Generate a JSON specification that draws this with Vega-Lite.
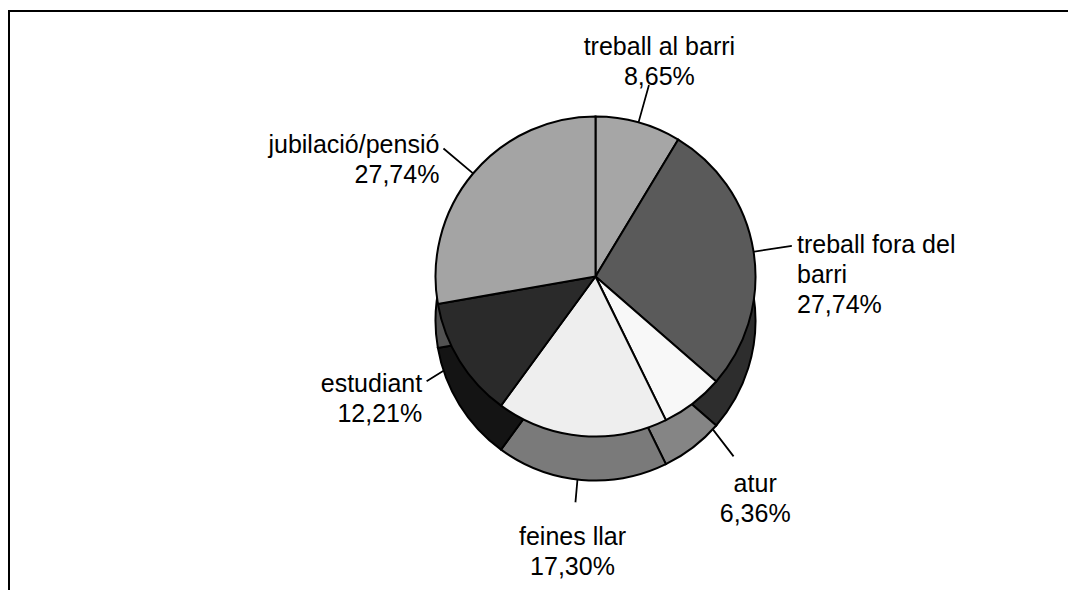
{
  "$schema": "https://vega.github.io/schema/vega-lite/v6.json",
  "width": 1059,
  "height": 579,
  "autosize": "none",
  "padding": {"left": 9, "top": 11, "right": 0, "bottom": 0},
  "background": "white",
  "config": {
    "view": {"stroke": null},
    "text": {"font": "Liberation Sans", "fontSize": 25, "lineHeight": 30, "color": "black"}
  },
  "data": {
    "values": [
      {"cat": "treball al barri", "value": 8.65, "label": "treball al barri\n8,65%"},
      {"cat": "treball fora del barri", "value": 27.74, "label": "treball fora del\nbarri\n27,74%"},
      {"cat": "atur", "value": 6.36, "label": "atur\n6,36%"},
      {"cat": "feines llar", "value": 17.30, "label": "feines llar\n17,30%"},
      {"cat": "estudiant", "value": 12.21, "label": "estudiant\n12,21%"},
      {"cat": "jubilació/pensió", "value": 27.74, "label": "jubilació/pensió\n27,74%"}
    ]
  },
  "transform": [
    {"window": [{"op": "row_number", "as": "ord"}]},
    {"stack": "value", "groupby": [], "sort": [{"field": "ord", "order": "ascending"}], "as": ["v0", "v1"]},
    {"calculate": "(datum.v0 + datum.v1) / 2", "as": "mid"},
    {"calculate": "datum.mid + 0.02", "as": "mid2"}
  ],
  "layer": [
    {
      "transform": [{"filter": "datum.ord == 1"}],
      "mark": {"type": "rect", "filled": false, "stroke": "black", "strokeWidth": 2},
      "encoding": {
        "x": {"value": 0},
        "x2": {"value": {"expr": "width + 40"}},
        "y": {"value": 0},
        "y2": {"value": {"expr": "height + 40"}}
      }
    },
    {
      "transform": [{"filter": "datum.cat != 'atur' && datum.cat != 'feines llar'"}],
      "mark": {"type": "arc", "radius": 198, "fill": "black", "stroke": "black", "strokeWidth": 1.5, "xOffset": 57, "yOffset": -24},
      "encoding": {
        "theta": {"field": "mid", "type": "quantitative", "scale": {"domain": [0, 100]}},
        "theta2": {"field": "mid2"}
      }
    },
    {
      "transform": [{"filter": "datum.cat == 'atur' || datum.cat == 'feines llar'"}],
      "mark": {"type": "arc", "radius": 226, "fill": "black", "stroke": "black", "strokeWidth": 1.5, "xOffset": 57, "yOffset": -24},
      "encoding": {
        "theta": {"field": "mid", "type": "quantitative", "scale": {"domain": [0, 100]}},
        "theta2": {"field": "mid2"}
      }
    },
    {
      "mark": {"type": "arc", "radius": 160, "stroke": "black", "strokeWidth": 2, "xOffset": 57, "yOffset": 20},
      "encoding": {
        "theta": {"field": "v0", "type": "quantitative", "scale": {"domain": [0, 100]}},
        "theta2": {"field": "v1"},
        "color": {
          "field": "cat", "type": "nominal", "legend": null,
          "scale": {
            "domain": ["treball al barri", "treball fora del barri", "atur", "feines llar", "estudiant", "jubilació/pensió"],
            "range": ["#555555", "#2d2d2d", "#858585", "#7a7a7a", "#141414", "#525252"]
          }
        }
      }
    },
    {
      "mark": {"type": "arc", "radius": 160, "stroke": "black", "strokeWidth": 2, "xOffset": 57, "yOffset": -24},
      "encoding": {
        "theta": {"field": "v0", "type": "quantitative", "scale": {"domain": [0, 100]}},
        "theta2": {"field": "v1"},
        "fill": {
          "field": "cat", "type": "nominal", "legend": null,
          "scale": {
            "domain": ["treball al barri", "treball fora del barri", "atur", "feines llar", "estudiant", "jubilació/pensió"],
            "range": ["#a6a6a6", "#5a5a5a", "#f8f8f8", "#eeeeee", "#2a2a2a", "#a4a4a4"]
          }
        }
      }
    },
    {
      "transform": [{"filter": "datum.cat == 'treball al barri'"}],
      "mark": {"type": "text", "radius": 238, "align": "center", "baseline": "middle", "lineBreak": "\n", "xOffset": 57, "yOffset": -24},
      "encoding": {
        "theta": {"field": "mid", "type": "quantitative", "scale": {"domain": [0, 100]}},
        "text": {"field": "label"}
      }
    },
    {
      "transform": [{"filter": "datum.cat == 'atur' || datum.cat == 'feines llar'"}],
      "mark": {"type": "text", "radius": 262, "align": "center", "baseline": "middle", "lineBreak": "\n", "xOffset": 57, "yOffset": -24},
      "encoding": {
        "theta": {"field": "mid", "type": "quantitative", "scale": {"domain": [0, 100]}},
        "text": {"field": "label"}
      }
    },
    {
      "transform": [{"filter": "datum.cat == 'treball fora del barri'"}],
      "mark": {"type": "text", "radius": 204, "align": "left", "baseline": "middle", "lineBreak": "\n", "xOffset": 57, "yOffset": -24},
      "encoding": {
        "theta": {"field": "mid", "type": "quantitative", "scale": {"domain": [0, 100]}},
        "text": {"field": "label"}
      }
    },
    {
      "transform": [{"filter": "datum.cat == 'estudiant' || datum.cat == 'jubilació/pensió'"}],
      "mark": {"type": "text", "radius": 204, "align": "right", "baseline": "middle", "lineBreak": "\n", "xOffset": 57, "yOffset": -24},
      "encoding": {
        "theta": {"field": "mid", "type": "quantitative", "scale": {"domain": [0, 100]}},
        "text": {"field": "label"}
      }
    }
  ]
}
